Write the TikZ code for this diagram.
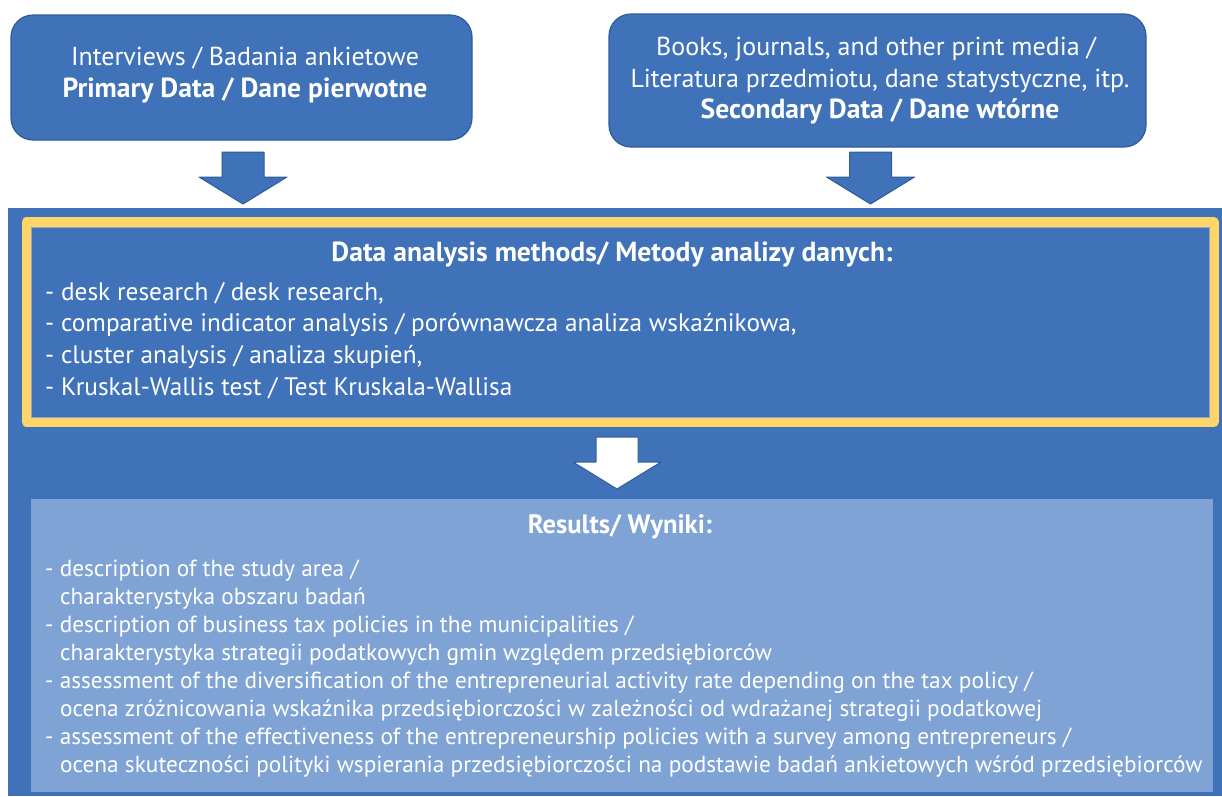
\documentclass[tikz,border=0pt]{standalone}
\usepackage{fontspec}
\setmainfont{PT Sans}
\usetikzlibrary{positioning}
\definecolor{boxblue}{HTML}{3F72B8}
\definecolor{edgeblue}{HTML}{2E5C99}
\definecolor{frameyellow}{HTML}{FDD56A}
\definecolor{resblue}{HTML}{7FA3D4}
\definecolor{thinline}{HTML}{8FA6C4}
\tikzset{
  topbox/.style={draw=edgeblue,fill=boxblue,line width=1.2pt,rounded corners=22pt,inner sep=0pt},
  linetext/.style={text=white,inner sep=0pt},
  headfont/.style={font=\fontsize{27.6}{32}\selectfont\bfseries},
  blockarrow/.style={draw=edgeblue,fill=boxblue,line width=1pt},
  downarrow/.pic={\path[pic actions] (-21,0) -- (21,0) -- (21,25) -- (44,25) -- (0,52) -- (-44,25) -- (-21,25) -- cycle;}
}
\begin{document}
\begin{tikzpicture}[x=1pt,y=-1pt,line join=round]
\useasboundingbox (0,0) rectangle (1222,796);
% source boxes
\node[topbox,minimum width=461pt,minimum height=125pt] (primary) at (241.5,77.5) {};
\node[linetext,anchor=base,font=\fontsize{26}{30}\selectfont] (primary1) at (245,65) {Interviews / Badania ankietowe};
\node[linetext,anchor=base,headfont] (primary2) at (245,97) {Primary Data / Dane pierwotne};
\node[topbox,minimum width=537pt,minimum height=133pt] (secondary) at (877.5,80.5) {};
\node[linetext,anchor=base,font=\fontsize{26}{30}\selectfont] (secondary1) at (876,55) {Books, journals, and other print media /};
\node[linetext,anchor=base,font=\fontsize{26}{30}\selectfont] (secondary2) at (880,87) {Literatura przedmiotu, dane statystyczne, itp.};
\node[linetext,anchor=base,headfont] (secondary3) at (880,118) {Secondary Data / Dane wtórne};
% main panel
\fill[boxblue] (8,208) rectangle (1222,796);
\draw[frameyellow,line width=10pt] (26.5,222) rectangle (1213.5,422);
\draw[thinline,line width=0.6pt] (31,227) rectangle (1209,417);
\fill[resblue] (31,499) rectangle (1213,792);
% arrows
\pic[blockarrow] at (243,152) {downarrow};
\pic[blockarrow] at (870.5,152) {downarrow};
\pic[blockarrow,fill=white] at (617,437) {downarrow};
% methods
\node[linetext,anchor=base,headfont] (methodshead) at (612,261) {Data analysis methods/ Metody analizy danych:};
\foreach \txt [count=\i] in {%
  {- desk research / desk research,},
  {- comparative indicator analysis / porównawcza analiza wskaźnikowa,},
  {- cluster analysis / analiza skupień,},
  {- Kruskal-Wallis test / Test Kruskala-Wallisa}}
  \node[linetext,anchor=base west,font=\fontsize{25.3}{30}\selectfont] (method\i) at (45,{300+31.67*(\i-1)}) {\txt};
% results
\node[linetext,anchor=base,font=\fontsize{26.6}{30}\selectfont\bfseries] (resultshead) at (620,533) {Results/ Wyniki:};
\foreach \txt [count=\i] in {%
  {- description of the study area /},
  {\hspace*{15pt}charakterystyka obszaru badań},
  {- description of business tax policies in the municipalities /},
  {\hspace*{15pt}charakterystyka strategii podatkowych gmin względem przedsiębiorców},
  {- assessment of the diversification of the entrepreneurial activity rate depending on the tax policy /},
  {\hspace*{15pt}ocena zróżnicowania wskaźnika przedsiębiorczości w zależności od wdrażanej strategii podatkowej},
  {- assessment of the effectiveness of the entrepreneurship policies with a survey among entrepreneurs /},
  {\hspace*{15pt}ocena skuteczności polityki wspierania przedsiębiorczości na podstawie badań ankietowych wśród przedsiębiorców}}
  \node[linetext,anchor=base west,font=\fontsize{23.3}{28}\selectfont] (result\i) at (45,{576+28.1*(\i-1)}) {\txt};
\end{tikzpicture}
\end{document}
